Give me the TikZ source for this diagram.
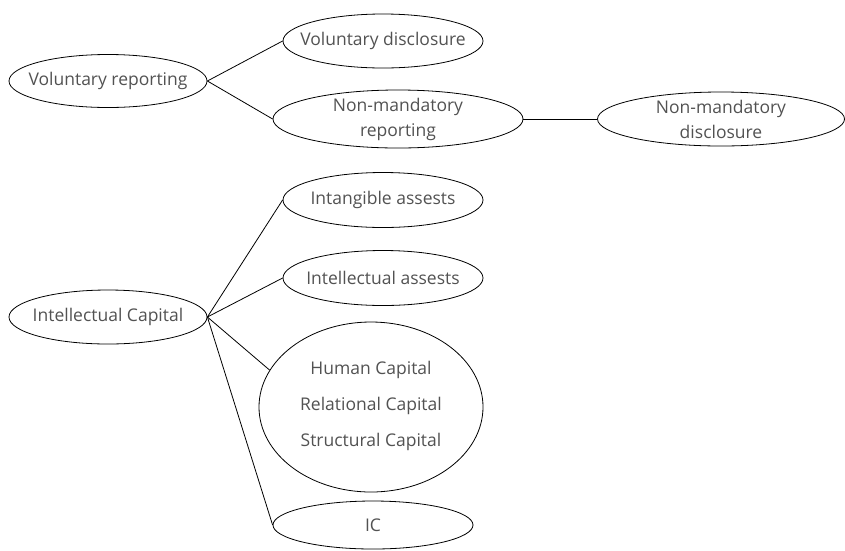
\documentclass[tikz,border=0pt]{standalone}
\usepackage{fontspec}
\setmainfont{Open Sans}
\usetikzlibrary{shapes.geometric}
\begin{document}
\begin{tikzpicture}[x=1pt,y=-1pt,
  ell/.style={draw=black,ellipse,inner sep=0pt,line width=0.8pt},
  lbl/.style={inner sep=0pt,text=black!68,font=\fontsize{17.5}{25}\selectfont,align=center},
  conn/.style={draw=black,line width=0.8pt}]
\useasboundingbox (0,0) rectangle (845,550);
\node[ell,minimum width=198pt,minimum height=53pt] (vr) at (108,81) {};
\node[ell,minimum width=200pt,minimum height=54pt] (vd) at (383,41) {};
\node[ell,minimum width=250pt,minimum height=58pt] (nmr) at (398,119) {};
\node[ell,minimum width=247pt,minimum height=54pt] (nmd) at (721,119) {};
\node[ell,minimum width=198pt,minimum height=54pt] (ic) at (108,317) {};
\node[ell,minimum width=200pt,minimum height=55pt] (ia) at (383,200) {};
\node[ell,minimum width=200pt,minimum height=55pt] (ila) at (383,278) {};
\node[ell,minimum width=224pt,minimum height=170pt] (hc) at (371,407) {};
\node[ell,minimum width=200pt,minimum height=48pt] (icn) at (373,525) {};
\node[lbl] (vrt) at (vr) {Voluntary reporting};
\node[lbl] (vdt) at (vd) {Voluntary disclosure};
\node[lbl] (nmrt) at (nmr) {Non-mandatory\\reporting};
\node[lbl] (nmdt) at (nmd) {Non-mandatory\\disclosure};
\node[lbl] (ict) at (ic) {Intellectual Capital};
\node[lbl] (iat) at (ia) {Intangible assests};
\node[lbl] (ilat) at (ila) {Intellectual assests};
\node[lbl,font=\fontsize{17.5}{36}\selectfont] (hct) at (371,405.5) {Human Capital\\Relational Capital\\Structural Capital};
\node[lbl] (icnt) at (icn) {IC};
\draw[conn] (vr.east) -- (vd.west);
\draw[conn] (vr.east) -- (nmr.west);
\draw[conn] (nmr.east) -- (nmd.west);
\draw[conn] (ic.east) -- (ia.west);
\draw[conn] (ic.east) -- (ila.west);
\draw[conn] (ic.east) -- (hc.160);
\draw[conn] (ic.east) -- (icn.west);
\end{tikzpicture}
\end{document}
